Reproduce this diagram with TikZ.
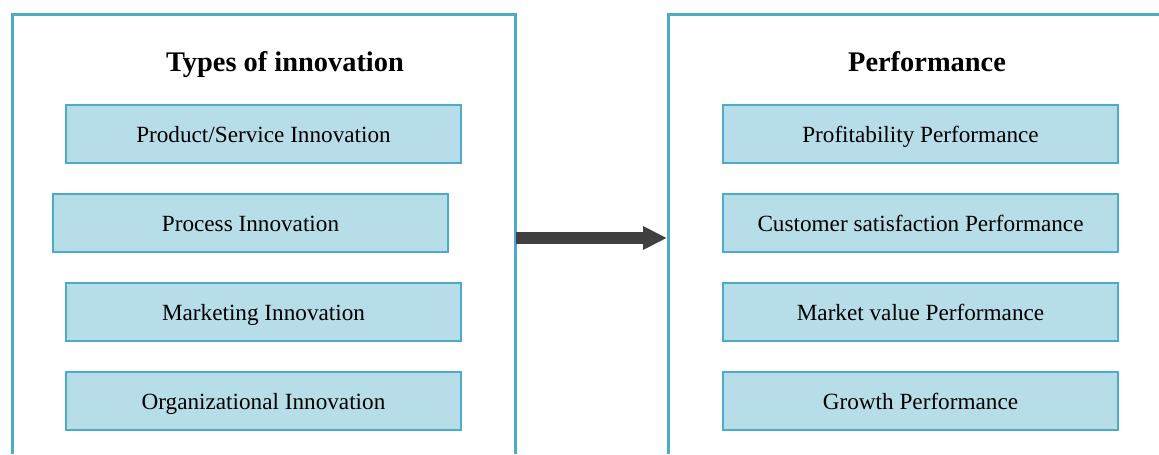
\documentclass[tikz,border=0pt]{standalone}
\usepackage{fontspec}
\setmainfont{Liberation Serif}
\definecolor{FrameBlue}{HTML}{4BACC6}
\definecolor{BoxBlue}{HTML}{B7DDE8}
\definecolor{ArrowGray}{HTML}{404040}
\usepackage{tikz}
\usetikzlibrary{arrows.meta, positioning}

\tikzset{
  framebox/.style={draw=FrameBlue, line width=1.5pt},
  itembox/.style={draw=FrameBlue, line width=0.6pt, fill=BoxBlue, minimum width=197.5pt, minimum height=29pt, inner sep=0pt, text height=9.6pt, text depth=1pt, font=\fontsize{11.6}{14}\selectfont},
  paneltitle/.style={text height=12pt, text depth=1pt, font=\fontsize{14.2}{17}\selectfont\bfseries}
}

\begin{document}
\begin{tikzpicture}[x=0.5pt, y=-0.5pt]
                \useasboundingbox (0,0) rectangle (1159,454);

                % Panel frames (open at the bottom)
                \draw[framebox] (12,454) -- (12,15) -- (515,15) -- (515,454);
                \draw[framebox] (668,454) -- (668,15) -- (1159,15);

                % Panel titles
                \node[paneltitle] (innotitle) at (285,61) {Types of innovation};
                \node[paneltitle] (perftitle) at (927,61) {Performance};

                % Innovation types
                \node[itembox] (inno1) at (263.5,134) {Product/Service Innovation};
                \node[itembox] (inno2) at (250.5,223) {Process Innovation};
                \node[itembox] (inno3) at (263.5,312) {Marketing Innovation};
                \node[itembox] (inno4) at (263.5,401) {Organizational Innovation};

                % Performance measures
                \node[itembox] (perf1) at (920.5,134) {Profitability Performance};
                \node[itembox] (perf2) at (920.5,223) {Customer satisfaction Performance};
                \node[itembox] (perf3) at (920.5,312) {Market value Performance};
                \node[itembox] (perf4) at (920.5,401) {Growth Performance};

                % Link between the panels
                \coordinate (linkstart) at (516,238);
                \coordinate (linkend) at (667,238);
                \draw[ArrowGray, line width=5.6pt, -{Triangle[length=12pt, width=11pt]}] (linkstart) -- (linkend);
            \end{tikzpicture}
\end{document}
